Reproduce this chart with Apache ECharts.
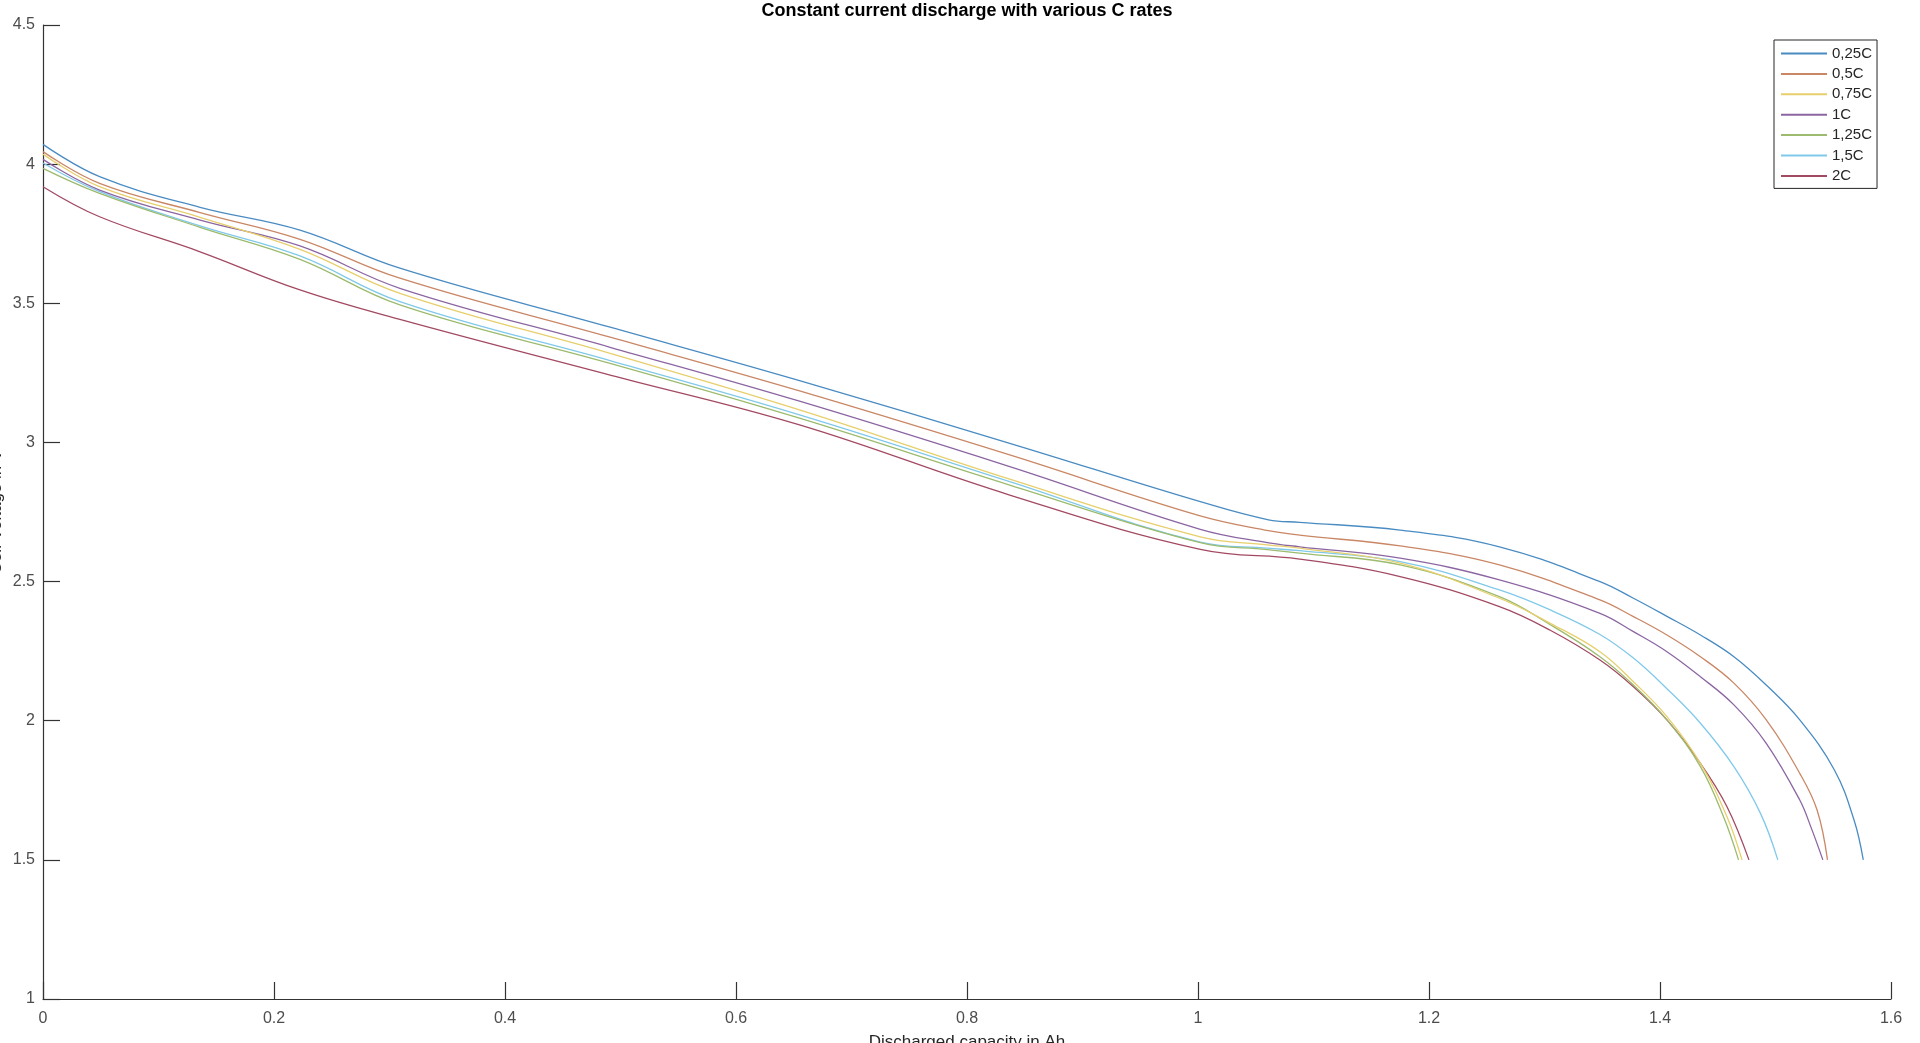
<!DOCTYPE html>
<html>
<head>
<meta charset="utf-8">
<title>Constant current discharge with various C rates</title>
<script src="https://cdn.jsdelivr.net/npm/echarts@6.0.0/dist/echarts.min.js"></script>
<style>
html, body { margin: 0; padding: 0; background: #fff; }
#container { width: 1920px; height: 1043px; }
</style>
</head>
<body>
<div id="container"></div>
<script>
// discharged capacity (Ah) / cell voltage (V) pairs
var c025 = [[0,4.071],[0.049,3.955],[0.136,3.845],[0.2225,3.763],[0.309,3.626],[0.491,3.414],[0.655,3.222],[0.837,2.997],[1.002,2.787],[1.061,2.722],[1.088,2.713],[1.175,2.685],[1.261,2.625],[1.348,2.500],[1.377,2.440],[1.406,2.375],[1.435,2.308],[1.464,2.230],[1.492,2.128],[1.521,2.003],[1.551,1.823],[1.568,1.643],[1.576,1.5]];
var c05 = [[0,4.045],[0.049,3.931],[0.136,3.826],[0.2225,3.730],[0.309,3.590],[0.491,3.378],[0.655,3.185],[0.837,2.955],[1.002,2.736],[1.061,2.683],[1.088,2.667],[1.175,2.628],[1.261,2.560],[1.348,2.434],[1.377,2.374],[1.406,2.308],[1.435,2.230],[1.464,2.135],[1.492,2.003],[1.521,1.811],[1.536,1.679],[1.545,1.5]];
var c075 = [[0,4.036],[0.049,3.919],[0.136,3.809],[0.2225,3.694],[0.309,3.536],[0.491,3.320],[0.655,3.117],[0.837,2.868],[1.002,2.661],[1.06,2.632],[1.088,2.620],[1.175,2.566],[1.261,2.440],[1.305,2.350],[1.348,2.248],[1.377,2.140],[1.406,2.015],[1.435,1.847],[1.458,1.655],[1.471,1.5]];
var c1 = [[0,4.017],[0.049,3.907],[0.136,3.799],[0.2225,3.706],[0.309,3.554],[0.491,3.342],[0.655,3.148],[0.837,2.913],[1.002,2.688],[1.06,2.640],[1.088,2.625],[1.175,2.584],[1.261,2.506],[1.348,2.386],[1.377,2.320],[1.406,2.248],[1.435,2.158],[1.464,2.057],[1.492,1.919],[1.521,1.715],[1.531,1.614],[1.541,1.5]];
var c125 = [[0,3.985],[0.049,3.895],[0.136,3.773],[0.2225,3.658],[0.309,3.494],[0.491,3.284],[0.655,3.087],[0.837,2.847],[1.002,2.640],[1.06,2.615],[1.088,2.602],[1.175,2.560],[1.261,2.446],[1.305,2.345],[1.348,2.230],[1.377,2.128],[1.406,2.003],[1.435,1.835],[1.455,1.655],[1.468,1.5]];
var c15 = [[0,4.004],[0.049,3.901],[0.136,3.778],[0.2225,3.670],[0.309,3.506],[0.491,3.294],[0.655,3.099],[0.837,2.859],[1.002,2.642],[1.06,2.620],[1.088,2.611],[1.175,2.572],[1.261,2.470],[1.305,2.398],[1.348,2.310],[1.377,2.225],[1.406,2.115],[1.435,1.991],[1.464,1.835],[1.487,1.667],[1.502,1.5]];
var c2 = [[0,3.919],[0.049,3.811],[0.136,3.685],[0.2225,3.548],[0.309,3.442],[0.491,3.242],[0.655,3.063],[0.837,2.811],[1.002,2.616],[1.088,2.581],[1.175,2.518],[1.261,2.410],[1.305,2.325],[1.348,2.218],[1.377,2.122],[1.406,2.003],[1.435,1.847],[1.458,1.691],[1.477,1.5]];

var rateNames = ['0,25C', '0,5C', '0,75C', '1C', '1,25C', '1,5C', '2C'];
var rateData = [c025, c05, c075, c1, c125, c15, c2];
var rateColors = ['#4a8cc2', '#c98766', '#e6cf6c', '#8c66a2', '#9cbb6e', '#80c9ea', '#a34a63'];

var myChart = echarts.init(document.getElementById('container'));
var fontName = 'Liberation Sans';

var series = [];
for (var i = 0; i < rateNames.length; i++) {
	series.push({
		name: rateNames[i],
		type: 'line',
		data: rateData[i],
		symbol: 'none',
		smooth: 0.4,
		color: rateColors[i],
		lineStyle: { width: 1.3, color: rateColors[i] },
		z: 10 - i
	});
}

var option = {
	animation: false,
	backgroundColor: '#fff',
	title: {
		text: 'Constant current discharge with various C rates',
		left: 967,
		top: 2,
		padding: 0,
		textAlign: 'center',
		textStyle: { fontFamily: fontName, fontSize: 18, fontWeight: 'bold', color: '#000' }
	},
	legend: {
		orient: 'vertical',
		left: 1774,
		top: 40,
		padding: [6, 5, 5, 6],
		itemGap: 5.4,
		itemWidth: 46,
		itemHeight: 15,
		borderColor: '#262626',
		borderWidth: 1,
		backgroundColor: '#fff',
		itemStyle: { opacity: 0 },
		textStyle: { fontFamily: fontName, fontSize: 15, lineHeight: 15, color: '#262626' },
		data: rateNames
	},
	grid: { left: 43, right: 29, top: 25, bottom: 44, containLabel: false, outerBoundsMode: 'none' },
	xAxis: {
		type: 'value',
		min: 0,
		max: 1.6,
		interval: 0.2,
		name: 'Discharged capacity in Ah',
		nameLocation: 'middle',
		nameGap: 35,
		nameMoveOverlap: false,
		nameTextStyle: { fontFamily: fontName, fontSize: 17, color: '#262626' },
		axisLine: { show: true, lineStyle: { color: '#333', width: 1.2 } },
		axisTick: { show: true, inside: true, length: 17, lineStyle: { color: '#333', width: 1.2 } },
		axisLabel: { fontFamily: fontName, fontSize: 16, color: '#4d4d4d', margin: 12 },
		splitLine: { show: false }
	},
	yAxis: {
		type: 'value',
		min: 1,
		max: 4.5,
		interval: 0.5,
		name: 'Cell Voltage in V',
		nameLocation: 'middle',
		nameGap: 38,
		nameMoveOverlap: false,
		nameTextStyle: { fontFamily: fontName, fontSize: 17, color: '#262626' },
		axisLine: { show: true, lineStyle: { color: '#333', width: 1.2 } },
		axisTick: { show: true, inside: true, length: 17, lineStyle: { color: '#333', width: 1.2 } },
		axisLabel: { fontFamily: fontName, fontSize: 16, color: '#4d4d4d', margin: 8 },
		splitLine: { show: false }
	},
	series: series
};

myChart.setOption(option, true);
</script>
</body>
</html>
